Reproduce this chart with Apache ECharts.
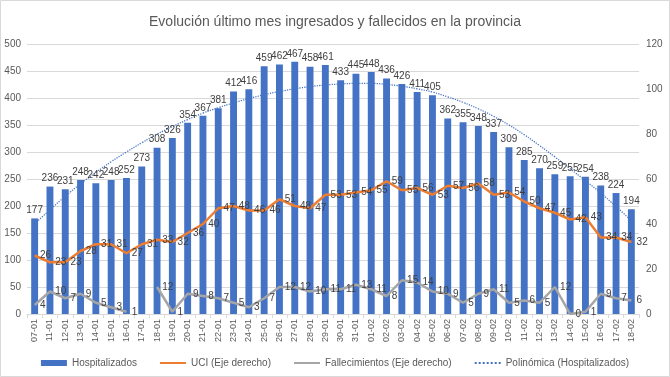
<!DOCTYPE html>
<html>
<head>
<meta charset="utf-8">
<script src="https://cdn.jsdelivr.net/npm/echarts@6/dist/echarts.min.js"></script>
<style>
html,body{margin:0;padding:0;background:#fff;}
#chart{width:670px;height:377px;}
</style>
</head>
<body>
<div id="chart"></div>
<script>
var categories = ["07-01","11-01","12-01","13-01","14-01","15-01","16-01","17-01","18-01","19-01","20-01","21-01","22-01","23-01","24-01","25-01","26-01","27-01","28-01","29-01","30-01","31-01","01-02","02-02","03-02","04-02","05-02","06-02","07-02","08-02","09-02","10-02","11-02","12-02","13-02","14-02","15-02","16-02","17-02","18-02"];
var hospitalizados = [177,236,231,248,242,248,252,273,308,326,354,367,381,412,416,459,462,467,458,461,433,445,448,436,426,411,405,362,355,348,337,309,285,270,259,255,254,238,224,194];
var uci = [26,23,23,28,31,31,27,31,33,32,36,40,47,48,46,46,51,48,47,53,53,54,55,59,55,56,53,57,56,58,53,54,50,47,45,42,43,34,34,32];
var fallecimientos = [4,10,7,9,5,3,1,null,12,1,9,8,7,5,3,7,12,12,10,11,11,13,11,8,15,14,10,9,5,9,11,5,6,5,12,0,1,9,7,6];
var polinomica = [167,193,218,241,262,282,300,317,333,347,360,372,382,391,399,406,412,417,421,424,426,427,427,425,422,417,411,402,392,380,366,350,332,312,291,269,247,224,199,173];
var leftTicks = {min:0, max:500, interval:50};
var rightTicks = {min:0, max:120, interval:20};

var FONT = '"Liberation Sans Narrow", "Liberation Sans", sans-serif';
var TXT = '#595959';
var LBL = '#404040';

var chart = echarts.init(document.getElementById('chart'), null, {renderer:'canvas'});
chart.setOption({
  backgroundColor:'#ffffff',
  animation:false,
  textStyle:{fontFamily:FONT},
  title:{
    text:'Evolución último mes ingresados y fallecidos en la provincia',
    left:'center', top:10,
    textStyle:{fontFamily:FONT, fontSize:14, fontWeight:'normal', color:TXT}
  },
  graphic:[{type:'rect', shape:{x:0.5,y:0.5,width:669,height:376}, style:{fill:'none', stroke:'#d9d9d9', lineWidth:1}, silent:true}],
  legend:{
    top:353, left:'center', itemGap:22, itemWidth:26, itemHeight:6,
    textStyle:{fontFamily:FONT, fontSize:10, color:TXT},
    data:[
      {name:'Hospitalizados', icon:'rect'},
      {name:'UCI (Eje derecho)', itemStyle:{opacity:0}},
      {name:'Fallecimientos (Eje derecho)', itemStyle:{opacity:0}},
      {name:'Polinómica (Hospitalizados)', itemStyle:{opacity:0}}
    ]
  },
  grid:{left:27, right:31, top:44, bottom:63, containLabel:false},
  xAxis:{
    type:'category', data:categories, boundaryGap:true,
    axisLine:{lineStyle:{color:'#d9d9d9'}},
    axisTick:{show:true, alignWithLabel:false, length:4, lineStyle:{color:'#d9d9d9'}},
    axisLabel:{rotate:90, interval:0, fontSize:9, color:TXT, fontFamily:FONT, margin:5}
  },
  yAxis:[
    {type:'value', min:leftTicks.min, max:leftTicks.max, interval:leftTicks.interval,
     axisLine:{show:false}, axisTick:{show:false},
     splitLine:{lineStyle:{color:'#d9d9d9'}},
     axisLabel:{fontSize:10, color:TXT, fontFamily:FONT, margin:6}},
    {type:'value', min:rightTicks.min, max:rightTicks.max, interval:rightTicks.interval,
     axisLine:{show:false}, axisTick:{show:false}, splitLine:{show:false},
     axisLabel:{fontSize:10, color:TXT, fontFamily:FONT, margin:7}}
  ],
  series:[
    {name:'Hospitalizados', type:'bar', data:hospitalizados, barWidth:'45%',
     itemStyle:{color:'#4472C4'},
     label:{show:true, position:'top', distance:3, fontSize:10, color:LBL, fontFamily:FONT}},
    {name:'UCI (Eje derecho)', type:'line', yAxisIndex:1, data:uci, symbol:'circle', symbolSize:0.5, showSymbol:true,
     lineStyle:{color:'#ED7D31', width:2.5}, itemStyle:{color:'#ED7D31'},
     label:{show:true, position:'right', distance:5, fontSize:10, color:LBL, fontFamily:FONT}},
    {name:'Fallecimientos (Eje derecho)', type:'line', yAxisIndex:1, data:fallecimientos, symbol:'circle', symbolSize:0.5, showSymbol:true,
     connectNulls:false,
     lineStyle:{color:'#A5A5A5', width:2.5}, itemStyle:{color:'#A5A5A5'},
     label:{show:true, position:'right', distance:5, fontSize:10, color:LBL, fontFamily:FONT}},
    {name:'Polinómica (Hospitalizados)', type:'line', yAxisIndex:0, data:polinomica, symbol:'none', showSymbol:false,
     smooth:true, z:1,
     lineStyle:{color:'#4472C4', width:1.25, type:'dotted'}, itemStyle:{color:'#4472C4'}}
  ]
});
</script>
</body>
</html>
